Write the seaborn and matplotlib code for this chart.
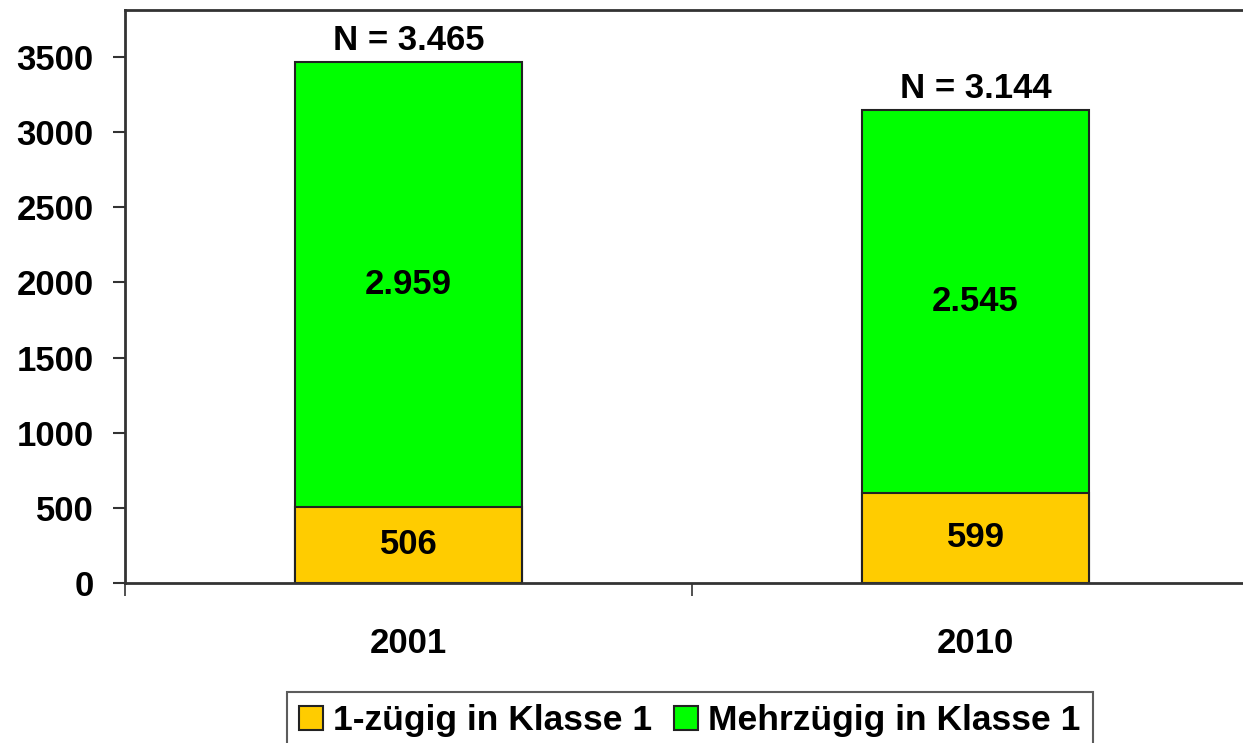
import matplotlib
matplotlib.use("Agg")
import matplotlib.pyplot as plt
import seaborn as sns
import pandas as pd
from matplotlib.patches import Patch

years = ["2001", "2010"]
einzuegig = [506, 599]
mehrzuegig = [2959, 2545]
labels_ein = ["506", "599"]
labels_mehr = ["2.959", "2.545"]
labels_total = ["N = 3.465", "N = 3.144"]
series_names = ["1-zügig in Klasse 1", "Mehrzügig in Klasse 1"]
yticks = [0, 500, 1000, 1500, 2000, 2500, 3000, 3500]

sns.set_theme(style="white")
plt.rcParams['font.family'] = ['Liberation Sans', 'DejaVu Sans']
plt.rcParams['font.weight'] = 'bold'
plt.rcParams['text.color'] = 'black'
plt.rcParams['xtick.color'] = 'black'
plt.rcParams['ytick.color'] = 'black'

YELLOW = "#FFCC00"
GREEN = "#00FF00"
EDGE = "#222222"
AX = "#333333"

df = pd.DataFrame({"Jahr": years, "ein": einzuegig, "mehr": mehrzuegig})
df["total"] = df["ein"] + df["mehr"]

fig = plt.figure(figsize=(12.43, 7.43), dpi=100)
ax = fig.add_axes([125/1243, 1-583/743, 1134/1243, 573/743])

sns.barplot(data=df, x="Jahr", y="total", color=GREEN, width=0.4,
            edgecolor=EDGE, linewidth=1.5, saturation=1, ax=ax, order=years)
sns.barplot(data=df, x="Jahr", y="ein", color=YELLOW, width=0.4,
            edgecolor=EDGE, linewidth=1.5, saturation=1, ax=ax, order=years)

fs = 25
for i in range(len(years)):
    e = einzuegig[i]; m = mehrzuegig[i]; t = e + m
    ax.text(i, e/2, labels_ein[i], ha="center", va="center", fontsize=fs, fontweight="bold", color="black")
    ax.text(i, e + m/2, labels_mehr[i], ha="center", va="center", fontsize=fs, fontweight="bold", color="black")
    ax.annotate(labels_total[i], (i, t), xytext=(0, 4), textcoords="offset points",
                ha="center", va="bottom", fontsize=fs, fontweight="bold", color="black")

ax.set_xlim(-0.5, 1.5)
ax.set_ylim(0, 3812)
ax.set_yticks(yticks)
ax.set_yticklabels([str(v) for v in yticks], fontsize=fs, fontweight="bold", color="black")
ax.tick_params(axis="y", direction="out", length=8.6, width=1.5, color=AX, pad=14, left=True)

# x: major ticks at category boundaries (no labels), minor ticks at centers with labels
ax.set_xticks([-0.5, 0.5, 1.5])
ax.set_xticklabels([])
ax.tick_params(axis="x", which="major", direction="out", length=9, width=1.2, color=AX, bottom=True)
ax.set_xticks([0, 1], minor=True)
ax.set_xticklabels(years, minor=True, fontsize=fs, fontweight="bold", color="black")
ax.tick_params(axis="x", which="minor", length=0, pad=32)

ax.set_xlabel("")
ax.set_ylabel("")
for s in ["left", "bottom", "top", "right"]:
    ax.spines[s].set_visible(True)
    ax.spines[s].set_color(AX)
    ax.spines[s].set_linewidth(2)
ax.grid(False)

lfs = 25.5
handles = [Patch(facecolor=YELLOW, edgecolor=EDGE, linewidth=1.5),
           Patch(facecolor=GREEN, edgecolor=EDGE, linewidth=1.5)]
leg = fig.legend(handles, series_names, loc="upper left",
                 bbox_to_anchor=(287/1243, 1-692/743), ncol=2,
                 prop={"size": lfs, "weight": "bold"}, frameon=True, fancybox=False,
                 handlelength=0.68, handleheight=0.68, handletextpad=0.28,
                 columnspacing=0.6, borderpad=0.35, borderaxespad=0)
leg.get_frame().set_edgecolor(AX)
leg.get_frame().set_linewidth(1.5)

fig.savefig("out.png", dpi=100)
